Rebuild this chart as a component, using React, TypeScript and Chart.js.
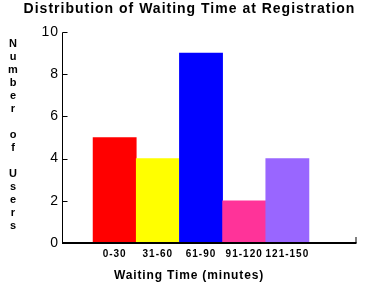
import { useEffect, useRef } from 'react';
import { Chart, registerables } from 'chart.js';

Chart.register(...registerables);

const categories = ['0-30', '31-60', '61-90', '91-120', '121-150'];
const users = [5, 4, 9, 2, 4];
const barColors = ['#ff0000', '#ffff00', '#0000ff', '#ff3399', '#9966ff'];
const yTickValues = [0, 2, 4, 6, 8, 10];
const chartTitle = 'Distribution of Waiting Time at Registration';
const xTitle = 'Waiting Time (minutes)';
const yTitle = 'Number of Users';

const FONT = '"Liberation Sans", Arial, Helvetica, sans-serif';
const X_MIN = -1.22;
const X_MAX = 5.59;

export default function App() {
  const ref = useRef<HTMLCanvasElement>(null);

  useEffect(() => {
    const canvas = ref.current;
    if (!canvas) return;

    const decor = {
      id: 'decor',
      beforeDraw(chart: any) {
        chart.ctx.letterSpacing = '1px';
      },
      afterDatasetsDraw(chart: any) {
        const { ctx, chartArea, scales } = chart;
        const ys = scales.y;
        ctx.save();
        ctx.letterSpacing = '0px';
        ctx.strokeStyle = '#000';
        const left = Math.round(chartArea.left) + 0.5;
        const bottom = Math.round(chartArea.bottom);
        const right = Math.round(chartArea.right);
        const top = Math.round(ys.getPixelForValue(yTickValues[yTickValues.length - 1])) + 0.5;

        // y axis line
        ctx.lineWidth = 1;
        ctx.beginPath();
        ctx.moveTo(left, top);
        ctx.lineTo(left, bottom);
        ctx.stroke();
        // inward y ticks
        yTickValues.forEach((v) => {
          if (v === 0) return;
          const py = Math.round(ys.getPixelForValue(v)) + 0.5;
          ctx.beginPath();
          ctx.moveTo(left, py);
          ctx.lineTo(left + 5, py);
          ctx.stroke();
        });
        // x axis line
        ctx.lineWidth = 2;
        ctx.beginPath();
        ctx.moveTo(left - 0.5, bottom);
        ctx.lineTo(right + 0.5, bottom);
        ctx.stroke();
        // right end tick
        ctx.lineWidth = 1;
        ctx.beginPath();
        ctx.moveTo(right, bottom);
        ctx.lineTo(right, bottom - 6);
        ctx.stroke();

        // titles
        ctx.fillStyle = '#000';
        ctx.textAlign = 'center';
        ctx.textBaseline = 'middle';
        ctx.font = `bold 14px ${FONT}`;
        ctx.letterSpacing = '1px';
        ctx.fillText(chartTitle, 189.5, 9);
        ctx.font = `bold 12px ${FONT}`;
        ctx.letterSpacing = '0.85px';
        ctx.fillText(xTitle, 189, 276);
        ctx.font = `bold 11px ${FONT}`;
        ctx.letterSpacing = '0px';
        yTitle.split('').forEach((c, i) => {
          if (c.trim() === '') return;
          ctx.fillText(c, 13, 44 + 13 * i);
        });
        ctx.restore();
      },
    };

    const chart = new Chart(canvas, {
      type: 'bar',
      data: {
        datasets: [
          {
            data: users.map((v, i) => ({ x: i, y: v })),
            backgroundColor: barColors,
            borderWidth: 0,
            barPercentage: 1,
            categoryPercentage: 1,
          },
        ],
      },
      options: {
        responsive: false,
        animation: false,
        devicePixelRatio: 1,
        events: [],
        layout: { padding: { top: 32, right: 21, left: 0, bottom: 0 } },
        plugins: { legend: { display: false }, title: { display: false }, tooltip: { enabled: false } },
        scales: {
          x: {
            type: 'linear',
            min: X_MIN,
            max: X_MAX,
            offset: false,
            bounds: 'data',
            grid: { display: false, drawTicks: false, offset: false },
            border: { display: false },
            afterBuildTicks: (axis: any) => {
              axis.ticks = categories.map((_, i) => ({ value: i }));
            },
            afterFit: (scale: any) => {
              scale.height = 44;
            },
            ticks: {
              autoSkip: false,
              maxRotation: 0,
              padding: 5,
              color: '#000',
              font: { family: FONT, size: 10, weight: 'bold' },
              callback: (value: any) => categories[Math.round(Number(value))] ?? '',
            },
          },
          y: {
            min: 0,
            max: 10,
            grid: { display: false, drawTicks: false },
            border: { display: false },
            afterBuildTicks: (axis: any) => {
              axis.ticks = yTickValues.map((v) => ({ value: v }));
            },
            afterFit: (scale: any) => {
              scale.width = 62;
            },
            ticks: {
              padding: 3,
              color: '#000',
              font: { family: FONT, size: 14 },
            },
          },
        },
      },
      plugins: [decor],
    } as any);

    return () => chart.destroy();
  }, []);

  return (
    <div style={{ position: 'absolute', left: 0, top: 0, width: 377, height: 287, background: '#fff' }}>
      <canvas ref={ref} width={377} height={287} />
    </div>
  );
}
